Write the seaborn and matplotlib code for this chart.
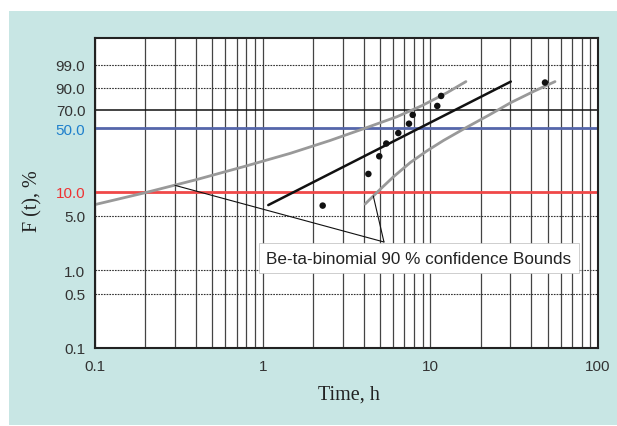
import numpy as np
import matplotlib
matplotlib.use("Agg")
import matplotlib.pyplot as plt
from matplotlib.patches import Rectangle
from matplotlib.ticker import LogLocator, NullFormatter, NullLocator
import pandas as pd
import seaborn as sns

# Observed failure times and median-rank unreliability
time_h = [2.28, 4.27, 4.96, 5.46, 6.44, 7.46, 7.85, 11.0, 11.6, 48.3]
failed_pct = [6.7, 16.3, 26.0, 35.6, 45.2, 54.8, 64.4, 74.0, 83.7, 93.3]

# Fitted Weibull line (end points)
fit_t = [1.08, 30.2]
fit_pct = [6.8, 93.8]

# Beta-binomial 90 % confidence bounds
upper_t = [0.1, 0.2, 0.4, 0.79, 1.46, 2.51, 3.98, 6.31, 8.91, 12.6, 16.3]
upper_pct = [6.9, 9.7, 13.9, 20.1, 28.0, 38.1, 49.4, 62.3, 74.3, 86.5, 93.8]
lower_t = [4.08, 5.01, 6.03, 7.59, 9.55, 12.0, 16.2, 22.4, 30.2, 41.7, 55.4]
lower_pct = [7.0, 10.6, 15.1, 22.1, 29.8, 38.3, 50.3, 64.2, 77.4, 87.7, 93.8]

# Callout anchor points (time, %)
callout_apex = (5.29, 2.32)
callout_targets = [(0.3, 11.9), (4.57, 8.8)]
callout_text = "Be-ta-binomial 90 % confidence Bounds"

# Axis ticks and reference levels
x_ticks = [0.1, 1, 10, 100]
x_tick_labels = ["0.1", "1", "10", "100"]
y_ticks = [0.1, 0.5, 1.0, 5.0, 10.0, 50.0, 70.0, 90.0, 99.0]
y_tick_labels = ["0.1", "0.5", "1.0", "5.0", "10.0", "50.0", "70.0", "90.0", "99.0"]
dotted_levels = [0.5, 1.0, 5.0, 90.0, 99.0]
solid_level = 70.0
blue_level = 50.0
red_level = 10.0

sns.set_style("white")
plt.rcParams["font.family"] = ["Liberation Sans", "DejaVu Sans"]


def weibull_fwd(p):
    p = np.clip(np.asarray(p, dtype=float) / 100.0, 1e-12, 1 - 1e-12)
    return np.log(-np.log1p(-p))


def weibull_inv(v):
    return 100.0 * (-np.expm1(-np.exp(np.asarray(v, dtype=float))))


fig = plt.figure(figsize=(6.17, 4.27), dpi=100)
fig.patches.append(Rectangle((9 / 617, 1 / 427), 608 / 617, 414 / 427,
                             transform=fig.transFigure, facecolor="#c8e6e4",
                             edgecolor="none", zorder=-10))
ax = fig.add_axes([95 / 617, (427 - 349) / 427, 503 / 617, 310 / 427])
ax.set_facecolor("white")

pts = pd.DataFrame({"t": time_h, "F": failed_pct})
fit = pd.DataFrame({"t": fit_t, "F": fit_pct})
up = pd.DataFrame({"t": upper_t, "F": upper_pct})
lo = pd.DataFrame({"t": lower_t, "F": lower_pct})

ax.set_xscale("log")
ax.set_yscale("function", functions=(weibull_fwd, weibull_inv))

# reference levels
for lv in dotted_levels:
    ax.axhline(lv, color="#333333", lw=0.8, ls=(0, (1.5, 1.0)), zorder=1)
ax.axhline(solid_level, color="#111111", lw=1.1, zorder=1)
ax.axhline(blue_level, color="#5566aa", lw=2.0, zorder=1)
ax.axhline(red_level, color="#f04848", lw=2.0, zorder=1)

sns.lineplot(data=up, x="t", y="F", color="#999999", lw=2.0, ax=ax, zorder=2, sort=False)
sns.lineplot(data=lo, x="t", y="F", color="#999999", lw=2.0, ax=ax, zorder=2, sort=False)
sns.lineplot(data=fit, x="t", y="F", color="#111111", lw=1.8, ax=ax, zorder=3, sort=False)
sns.scatterplot(data=pts, x="t", y="F", color="#111111", s=22, edgecolor="none",
                ax=ax, zorder=4)

for tgt in callout_targets:
    ax.annotate("", xy=tgt, xytext=callout_apex,
                arrowprops=dict(arrowstyle="-", color="#111111", lw=0.8,
                                shrinkA=0, shrinkB=0), zorder=3)

ax.text(0.644, 0.29, callout_text, transform=ax.transAxes, ha="center", va="center",
        fontsize=12.3, color="#222222", zorder=6,
        bbox=dict(boxstyle="square,pad=0.45", facecolor="white",
                  edgecolor="#bbbbbb", lw=0.5))

ax.set_xlim(0.1, 100)
ax.set_ylim(0.1, 99.9962)

ax.set_xticks(x_ticks)
ax.set_xticklabels(x_tick_labels)
ax.xaxis.set_minor_locator(LogLocator(base=10, subs=range(2, 10)))
ax.xaxis.set_minor_formatter(NullFormatter())
ax.set_yticks(y_ticks)
ax.set_yticklabels(y_tick_labels)
ax.yaxis.set_minor_locator(NullLocator())

ax.xaxis.grid(True, which="both", color="#444444", lw=0.9, zorder=0)
ax.yaxis.grid(False)
ax.set_axisbelow(True)

ax.tick_params(axis="both", which="both", length=0, labelsize=11, labelcolor="#333333")
ax.tick_params(axis="x", pad=8)
ax.tick_params(axis="y", pad=7)
for lab in ax.get_yticklabels():
    if lab.get_text() == "50.0":
        lab.set_color("#1f80cc")
    elif lab.get_text() == "10.0":
        lab.set_color("#ee3333")

for sp in ax.spines.values():
    sp.set_visible(True)
    sp.set_color("#222222")
    sp.set_linewidth(1.5)

ax.set_xlabel("Time, h", family=["Liberation Serif", "DejaVu Serif"], fontsize=14.5,
              color="#222222")
ax.set_ylabel("F (t), %", family=["Liberation Serif", "DejaVu Serif"], fontsize=14.5,
              color="#222222")
ax.xaxis.set_label_coords(0.504, -0.118)
ax.yaxis.set_label_coords(-0.104, 0.476)

fig.savefig("out.png", dpi=100)
